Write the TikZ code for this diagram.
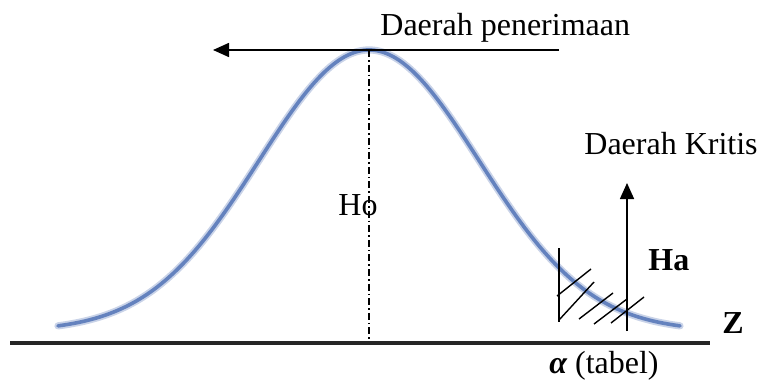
\documentclass[tikz,border=0pt]{standalone}
\usepackage{fontspec}
\setmainfont{Liberation Serif}
\newfontfamily\timesfont{Liberation Serif}
\usetikzlibrary{arrows.meta}
\definecolor{curveblue}{RGB}{100,130,190}
\tikzstyle{txt} = [inner sep=0pt, font=\timesfont\fontsize{16}{19}\selectfont]
\tikzstyle{txtb} = [inner sep=0pt, font=\timesfont\fontsize{16}{19}\selectfont\bfseries]
\tikzstyle{arrow} = [-{Triangle[length=8pt,width=7pt]}, line width=0.8pt]
\tikzstyle{hatch} = [line width=0.7pt]

\begin{document}
\begin{tikzpicture}[x=0.5pt, y=-0.5pt]
    \useasboundingbox (0,0) rectangle (758,380);

    % kurva normal
    \draw [curveblue!35, line width=3.6pt, line cap=round]
        plot[domain=58:680, samples=120, smooth]
        (\x, {331-281*exp(-0.5*((\x-369)/110)*((\x-369)/110))});
    \draw [curveblue, line width=1.8pt, line cap=round]
        plot[domain=58:680, samples=120, smooth]
        (\x, {331-281*exp(-0.5*((\x-369)/110)*((\x-369)/110))});

    \coordinate (peak) at (369,50);
    \coordinate (foot) at (369,340);
    \coordinate (axisL) at (10,343);
    \coordinate (axisR) at (710,343);
    \coordinate (accR) at (559,50);
    \coordinate (accL) at (213,50);
    \coordinate (haBot) at (627,331);
    \coordinate (haTop) at (627,183);

    \node [txt, anchor=base west]  (acc)  at (380,35)  {Daerah penerimaan};
    \node [txt, anchor=base west]  (krit) at (584,154) {Daerah Kritis};
    \node [txt, anchor=base west]  (ho)   at (338,215) {Ho};
    \node [txtb, anchor=base west] (ha)   at (648,270) {Ha};
    \node [txtb, anchor=base west] (z)    at (722,333) {Z};
    \node [txt, anchor=base west]  (tab)  at (549,373) {{\bfseries\itshape α} (tabel)};

    \draw [line width=0.6pt, dash pattern=on 3.5pt off 1.5pt on 0.8pt off 1.5pt] (peak) -- (foot);
    \draw [line width=1.8pt, black!85] (axisL) -- (axisR);
    \draw [arrow] (accR) -- (accL);
    \draw [arrow] (haBot) -- (haTop);

    % arsiran daerah kritis
    \draw [hatch] (559,248) -- (559,322);
    \draw [hatch] (557,296) -- (591,269);
    \draw [hatch] (559,320) -- (594,282);
    \draw [hatch] (579,319) -- (613,293);
    \draw [hatch] (594,324) -- (627,299);
    \draw [hatch] (611,323) -- (644,297);
\end{tikzpicture}
\end{document}
